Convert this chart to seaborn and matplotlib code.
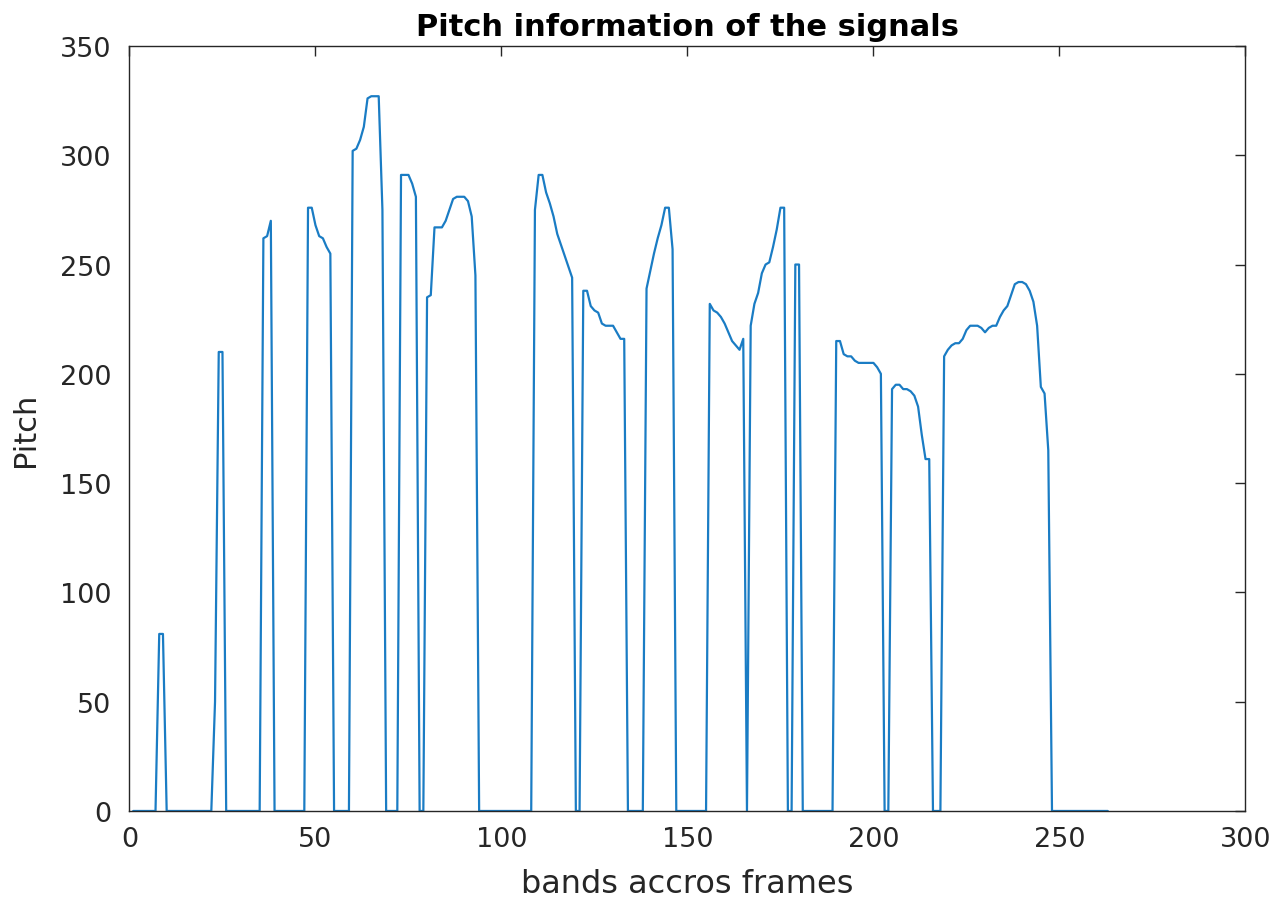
"""Pitch track of the signal frames, MATLAB-style line plot."""
import matplotlib
matplotlib.use("Agg")
import matplotlib.pyplot as plt
import pandas as pd
import seaborn as sns

# pitch per frame (frames 1..263), 0 = unvoiced
pitch = [
    0, 0, 0, 0, 0, 0, 0, 81, 81, 0,                 # 1-10
    0, 0, 0, 0, 0, 0, 0, 0, 0, 0,                   # 11-20
    0, 0, 50, 210, 210, 0, 0, 0, 0, 0,              # 21-30
    0, 0, 0, 0, 0, 262, 263, 270, 0, 0,             # 31-40
    0, 0, 0, 0, 0, 0, 0, 276, 276, 268,             # 41-50
    263, 262, 258, 255, 0, 0, 0, 0, 0, 302,         # 51-60
    303, 307, 313, 326, 327, 327, 327, 275, 0, 0,   # 61-70
    0, 0, 291, 291, 291, 287, 281, 0, 0, 235,       # 71-80
    236, 267, 267, 267, 270, 275, 280, 281, 281, 281,  # 81-90
    279, 272, 245, 0, 0, 0, 0, 0, 0, 0,             # 91-100
    0, 0, 0, 0, 0, 0, 0, 0, 275, 291,               # 101-110
    291, 283, 278, 272, 264, 259, 254, 249, 244, 0,  # 111-120
    0, 238, 238, 231, 229, 228, 223, 222, 222, 222,  # 121-130
    219, 216, 216, 0, 0, 0, 0, 0, 239, 247,         # 131-140
    255, 262, 268, 276, 276, 257, 0, 0, 0, 0,       # 141-150
    0, 0, 0, 0, 0, 232, 229, 228, 226, 223,         # 151-160
    219, 215, 213, 211, 216, 0, 222, 232, 237, 246,  # 161-170
    250, 251, 258, 266, 276, 276, 0, 0, 250, 250,   # 171-180
    0, 0, 0, 0, 0, 0, 0, 0, 0, 215,                 # 181-190
    215, 209, 208, 208, 206, 205, 205, 205, 205, 205,  # 191-200
    203, 200, 0, 0, 193, 195, 195, 193, 193, 192,   # 201-210
    190, 185, 172, 161, 161, 0, 0, 0, 208, 211,     # 211-220
    213, 214, 214, 216, 220, 222, 222, 222, 221, 219,  # 221-230
    221, 222, 222, 226, 229, 231, 236, 241, 242, 242,  # 231-240
    241, 238, 233, 222, 194, 191, 165, 0, 0, 0,     # 241-250
    0, 0, 0, 0, 0, 0, 0, 0, 0, 0,                   # 251-260
    0, 0, 0,                                        # 261-263
]
frames = list(range(1, len(pitch) + 1))

x_ticks = [0, 50, 100, 150, 200, 250, 300]
y_ticks = [0, 50, 100, 150, 200, 250, 300, 350]

df = pd.DataFrame({"frame": frames, "pitch": pitch})

sns.set_style("white")
plt.rcParams["font.family"] = ["DejaVu Sans"]

fig = plt.figure(figsize=(12.87, 9.03), dpi=100)
ax = fig.add_axes([0.1006, 0.1008, 0.8671, 0.8472])

sns.lineplot(data=df, x="frame", y="pitch", ax=ax, color="#1a7cc4",
             linewidth=1.6, estimator=None, sort=False)

ax.set_xlim(0, 300)
ax.set_ylim(0, 350)
ax.set_xticks(x_ticks)
ax.set_yticks(y_ticks)
ax.tick_params(direction="in", length=7, width=1, colors="#262626",
               labelsize=19.5, top=True, right=True)
ax.tick_params(axis="y", pad=13)
ax.tick_params(axis="x", pad=11)
for s in ax.spines.values():
    s.set_visible(True)
    s.set_color("#262626")
    s.set_linewidth(1.0)

ax.set_xlabel("bands accros frames", fontsize=23, color="#262626", labelpad=11)
ax.set_ylabel("Pitch", fontsize=22, color="#262626", labelpad=14)
ax.set_title("Pitch information of the signals", fontsize=22,
             fontweight="bold", color="black", pad=8)

fig.savefig("out.png", dpi=100)
